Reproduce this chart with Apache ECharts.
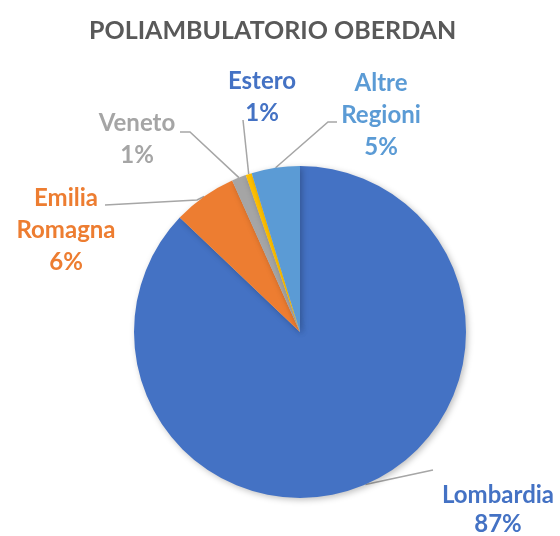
<!DOCTYPE html>
<html>
<head>
<meta charset="utf-8">
<script src="https://cdn.jsdelivr.net/npm/echarts@6/dist/echarts.min.js"></script>
<style>
  html, body { margin: 0; padding: 0; background: #fff; }
  #main { width: 560px; height: 536px; }
</style>
</head>
<body>
<div id="main"></div>
<script>
var regioni = ['Lombardia', 'Emilia\nRomagna', 'Veneto', 'Estero', 'Altre\nRegioni'];
var quote = [87.1, 6.2, 1.4, 0.6, 4.7];
var colori = ['#4472C4', '#ED7D31', '#A5A5A5', '#FFC000', '#5B9BD5'];
var coloriEtichette = ['#4472C4', '#ED7D31', '#A5A5A5', '#4472C4', '#5B9BD5'];
// centro delle etichette e punti delle linee guida (come nel grafico excel)
var posEtichette = [[498, 510], [66, 230], [137, 139], [262, 97], [381, 115]];
var puntiLinee = [
    [[433, 470]],
    [[197, 200], [105, 205]],
    [[190, 132], [180, 132]],
    [[243, 120]],
    [[328, 122], [337, 122]]
];

var myChart = echarts.init(document.getElementById('main'));

myChart.setOption({
    backgroundColor: '#ffffff',
    animation: false,
    title: {
        text: 'POLIAMBULATORIO OBERDAN',
        left: 84,
        top: 13,
        textStyle: {
            fontFamily: 'Lato',
            fontSize: 25,
            fontWeight: 'bold',
            color: '#595959'
        }
    },
    series: [{
        type: 'pie',
        center: [300, 332],
        radius: 166,
        startAngle: 90,
        clockwise: true,
        data: regioni.map(function (r, i) {
            return {
                name: r,
                value: quote[i],
                itemStyle: { color: colori[i] },
                label: { color: coloriEtichette[i], lineHeight: i === 0 ? 29 : 32 }
            };
        }),
        itemStyle: {
            borderWidth: 0,
            shadowBlur: 6,
            shadowOffsetX: 2,
            shadowOffsetY: 2,
            shadowColor: 'rgba(0,0,0,0.25)'
        },
        label: {
            show: true,
            position: 'outside',
            fontFamily: 'Lato',
            fontSize: 24,
            fontWeight: 'bold',
            lineHeight: 32,
            align: 'center',
            formatter: function (p) {
                return p.name + '\n' + Math.round(p.percent) + '%';
            }
        },
        labelLine: {
            show: true,
            length: 10,
            length2: 10,
            lineStyle: { color: '#A6A6A6', width: 1.5 }
        },
        labelLayout: function (params) {
            var i = params.dataIndex;
            var p = posEtichette[i];
            var inizio = params.labelLinePoints ? params.labelLinePoints[0] : null;
            var res = {
                x: p[0],
                y: p[1],
                align: 'center',
                verticalAlign: 'middle'
            };
            if (inizio) {
                var pts = [[inizio[0], inizio[1]]].concat(puntiLinee[i]);
                if (pts.length < 3) {
                    pts.push(pts[pts.length - 1].slice());
                }
                res.labelLinePoints = pts;
            }
            return res;
        }
    }]
});
</script>
</body>
</html>
